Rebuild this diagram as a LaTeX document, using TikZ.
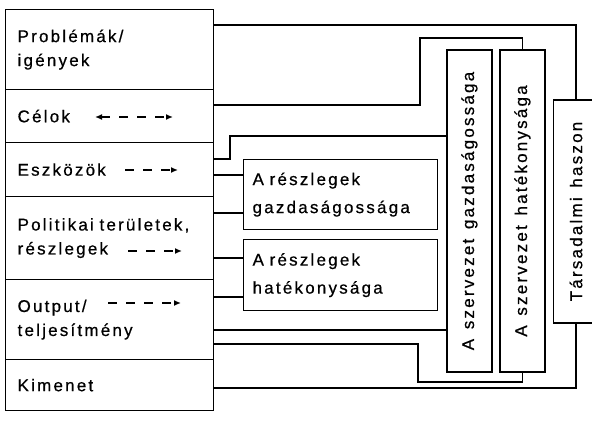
\documentclass[tikz,border=0pt]{standalone}
\usepackage{fontspec}
\setmainfont{Liberation Sans}[LetterSpace=13,WordSpace=1.4,FakeBold=0.6]
\usetikzlibrary{arrows.meta}
\begin{document}
\begin{tikzpicture}[x=1pt,y=-1pt,>={Latex[length=7pt,width=6pt]}]
	\tikzset{leftbox/.style={draw,line width=1.2pt,anchor=north west,minimum width=208pt,text width=184pt,inner xsep=12pt,align=left,font=\fontsize{17}{24}\selectfont},
		partbox/.style={draw,line width=1.2pt,anchor=north west,minimum width=194pt,text width=176pt,inner xsep=9pt,align=left,font=\fontsize{17}{28}\selectfont},
		orgbox/.style={draw,line width=1.2pt,minimum width=45pt,inner sep=0pt,font=\fontsize{17}{18}\selectfont},
		hint/.style={line width=1.5pt,dash pattern=on 9pt off 9pt},
		link/.style={line width=1.1pt}}
	\useasboundingbox (0,0) rectangle (592,433);
	% left column
	\node[leftbox,minimum height=80pt] (prob) at (5,9) {Problémák/\\igények};
	\node[leftbox,minimum height=53pt] (celok) at (5,89) {Célok};
	\node[leftbox,minimum height=54pt] (eszk) at (5,142) {Eszközök};
	\node[leftbox,minimum height=83pt] (pol) at (5,196) {Politikai területek,\\részlegek};
	\node[leftbox,minimum height=80pt] (out) at (5,279) {Output/\\teljesítmény};
	\node[leftbox,minimum height=51pt] (kim) at (5,359) {Kimenet};
	\draw[hint,<->] (95,117) -- (173,117);
	\draw[hint,->] (125,170) -- (178,170);
	\draw[hint,->] (128,251) -- (182,251);
	\draw[hint,->] (108,303) -- (181,303);
	% departments
	\node[partbox,minimum height=70pt] (rgaz) at (243,159) {A részlegek\\gazdaságossága};
	\node[partbox,minimum height=71pt] (rhat) at (243,239) {A részlegek\\hatékonysága};
	% organisation and society
	\node[orgbox,minimum height=322pt] (gaz) at (469.5,211) {\rotatebox{90}{A szervezet gazdaságossága}};
	\node[orgbox,minimum height=322pt] (hat) at (522.5,211) {\rotatebox{90}{A szervezet hatékonysága}};
	\node[orgbox,minimum height=223pt] (tars) at (576,211.5) {\rotatebox{90}{Társadalmi haszon}};
	% connections
	\draw[link] (prob.east |- 0,25) -| (tars.north);
	\draw[link] (celok.east |- 0,105) -| (420,38) -| (hat.north);
	\draw[link] (eszk.east |- 0,159) -| (230,136) -- (gaz.west |- 0,136);
	\draw[link] (eszk.east |- 0,175) -- (rgaz.west |- 0,175);
	\draw[link] (pol.east |- 0,213) -- (rgaz.west |- 0,213);
	\draw[link] (pol.east |- 0,258) -- (rhat.west |- 0,258);
	\draw[link] (out.east |- 0,297) -- (rhat.west |- 0,297);
	\draw[link] (out.east |- 0,330) -- (gaz.west |- 0,330);
	\draw[link] (out.east |- 0,344) -| (418,382) -| (hat.south);
	\draw[link] (kim.east |- 0,388) -| (tars.south);
\end{tikzpicture}
\end{document}
